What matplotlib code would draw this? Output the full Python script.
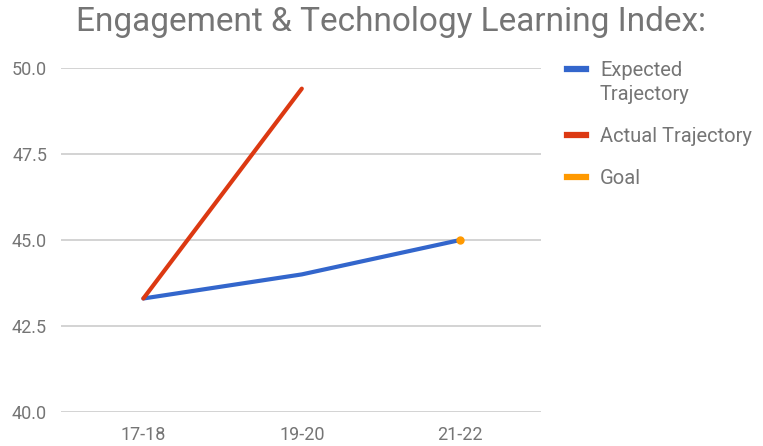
import matplotlib
matplotlib.use("Agg")
import matplotlib.pyplot as plt
from matplotlib.lines import Line2D

plt.rcParams['font.family'] = ['Roboto', 'DejaVu Sans']

# data
years = ["17-18", "19-20", "21-22"]
expected = [43.3, 44.0, 45.0]
actual = [43.3, 49.4]
goal = [45.0]
yticks = [40.0, 42.5, 45.0, 47.5, 50.0]
series_names = ["Expected\nTrajectory", "Actual Trajectory", "Goal"]

blue = "#3366cc"
red = "#dc3912"
orange = "#ff9900"
txt = "#757575"

W, H = 763, 446
fig = plt.figure(figsize=(W / 100, H / 100), dpi=100)
ax = fig.add_axes([61 / W, 1 - 412 / H, 480 / W, 344 / H])

x = list(range(len(years)))
ax.plot(x, expected, color=blue, lw=3, solid_capstyle="round", zorder=3)
ax.plot(x[:len(actual)], actual, color=red, lw=3, solid_capstyle="round", zorder=3)
ax.plot(x[2:], goal, "o", color=orange, ms=5, zorder=4)

ax.set_ylim(40, 50)
ax.set_xlim(-0.52, 2.51)
ax.set_yticks(yticks)
ax.set_yticklabels([f"{v:.1f}" for v in yticks])
ax.set_xticks(x)
ax.set_xticklabels(years)
ax.grid(axis="y", color="#cccccc", lw=1.2)
ax.set_axisbelow(True)
for s in ax.spines.values():
    s.set_visible(False)
ax.tick_params(length=0, colors=txt, labelsize=13)
ax.tick_params(axis="y", pad=10)
ax.tick_params(axis="x", pad=10)

fig.text(0.513, 1 - 22 / H, "Engagement & Technology Learning Index:", ha="center",
         va="center", color=txt, fontsize=24)

# legend, google sheets style: marker aligned with first text line
row_y = 69
for name, c in zip(series_names, (blue, red, orange)):
    fig.add_artist(Line2D([567 / W, 586 / W], [1 - row_y / H] * 2, color=c, lw=4.5,
                          transform=fig.transFigure))
    for i, line in enumerate(name.split("\n")):
        fig.text(600 / W, 1 - (row_y + 2 + 24 * i) / H, line, ha="left", va="center",
                 color=txt, fontsize=14.5)
    row_y += 24 * len(name.split("\n")) + 18

fig.savefig("out.png", dpi=100)
